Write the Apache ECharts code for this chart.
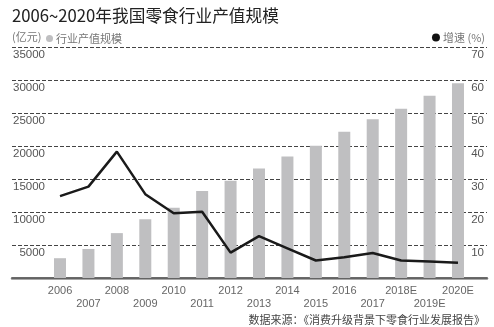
<!DOCTYPE html>
<html>
<head>
<meta charset="utf-8">
<script src="https://cdn.jsdelivr.net/npm/echarts@6/dist/echarts.min.js"></script>
<style>
  html, body { margin: 0; padding: 0; background: #fff; }
  #chart { width: 494px; height: 327px; }
</style>
</head>
<body>
<div id="chart"></div>
<script>
// Snack industry output value (亿元) and growth rate (%), 2006–2020E
const years = ['2006', '2007', '2008', '2009', '2010', '2011', '2012', '2013',
  '2014', '2015', '2016', '2017', '2018E', '2019E', '2020E'];
const outputValue = [3000, 4400, 6800, 8900, 10650, 13200, 14750, 16600,
  18400, 20050, 22150, 24050, 25650, 27600, 29500];
const growthRate = [24.8, 27.7, 38.3, 25.4, 19.6, 20.1, 7.7, 12.7,
  9.0, 5.3, 6.3, 7.6, 5.3, 5.0, 4.6];
const leftTicks = { min: 0, max: 35000, interval: 5000 };
const rightTicks = { min: 0, max: 70, interval: 10 };

const FONT = '"Liberation Sans", "Noto Sans CJK SC", sans-serif';
const CJK = '"Noto Sans CJK SC", "Liberation Sans", sans-serif';

const chart = echarts.init(document.getElementById('chart'), null, { renderer: 'canvas' });

const hiddenAxis = {
  axisLine: { show: false }, axisTick: { show: false },
  axisLabel: { show: false }, splitLine: { show: false }
};

chart.setOption({
  animation: false,
  backgroundColor: '#fff',
  textStyle: { fontFamily: FONT },
  title: [
    {
      text: '2006~2020年我国零食行业产值规模',
      left: 12, top: 7, padding: 0,
      textStyle: { fontFamily: CJK, fontSize: 16.7, fontWeight: 'normal', color: '#222' }
    },
    {
      text: '(亿元)',
      left: 12, top: 31, padding: 0,
      textStyle: { fontFamily: CJK, fontSize: 11, fontWeight: 'normal', color: '#777' }
    },
    {
      text: '数据来源：《消费升级背景下零食行业发展报告》',
      right: 9, top: 314, padding: 0,
      textStyle: { fontFamily: CJK, fontSize: 11, fontWeight: 'normal', color: '#444' }
    }
  ],
  legend: [
    {
      data: ['行业产值规模'],
      left: 41, top: 28,
      icon: 'circle', itemWidth: 7, itemHeight: 7, itemGap: 4,
      textStyle: { fontFamily: CJK, fontSize: 11, color: '#777', padding: [0, 0, 0, -2] }
    },
    {
      data: ['增速'],
      right: 4, top: 27,
      icon: 'circle', itemWidth: 8, itemHeight: 8,
      formatter: (name) => name + ' (%)',
      textStyle: { fontFamily: CJK, fontSize: 11, color: '#777', padding: [0, 0, 0, -2] }
    }
  ],
  grid: [
    // frame grid: gridlines and value labels, full width
    { left: 12, right: 7, top: 47, bottom: 49 },
    // category grid: bars and line
    { left: 45.8, right: 21.8, top: 47, bottom: 49 }
  ],
  xAxis: [
    {
      gridIndex: 0, type: 'value', position: 'top', min: 0, max: 1,
      axisLine: { show: true, lineStyle: { color: '#8c8c8c', width: 2.5 } },
      axisTick: { show: false }, axisLabel: { show: false }, splitLine: { show: false }
    },
    {
      gridIndex: 0, type: 'value', position: 'bottom', min: 0, max: 1,
      axisLine: { show: true, lineStyle: { color: '#555', width: 1.5 } },
      axisTick: { show: false }, axisLabel: { show: false }, splitLine: { show: false }
    },
    {
      gridIndex: 1, type: 'category', data: years, boundaryGap: true,
      axisLine: { show: false }, axisTick: { show: false },
      axisLabel: {
        interval: 0, margin: 6, fontSize: 11, color: '#666', lineHeight: 13.5,
        formatter: (v, i) => (i % 2 ? '\n' + v : v)
      }
    }
  ],
  yAxis: [
    {
      gridIndex: 0, type: 'value', position: 'left', ...leftTicks,
      axisLine: { show: false }, axisTick: { show: false },
      axisLabel: {
        inside: true, align: 'right', verticalAlign: 'top', margin: 33,
        padding: [2, 0, 0, 0], fontSize: 11.5, color: '#555', showMinLabel: false,
        formatter: (v) => String(v)
      },
      splitLine: { show: true, lineStyle: { color: '#444', type: [4, 2], width: 1 } }
    },
    {
      gridIndex: 0, type: 'value', position: 'right', ...rightTicks,
      axisLine: { show: false }, axisTick: { show: false },
      axisLabel: {
        inside: true, align: 'right', verticalAlign: 'top', margin: 3,
        padding: [2, 0, 0, 0], fontSize: 11.5, color: '#555', showMinLabel: false,
        formatter: (v) => String(v)
      },
      splitLine: { show: false }
    },
    { gridIndex: 1, type: 'value', ...leftTicks, ...hiddenAxis },
    { gridIndex: 1, type: 'value', ...rightTicks, ...hiddenAxis }
  ],
  series: [
    {
      name: '行业产值规模', type: 'bar',
      xAxisIndex: 2, yAxisIndex: 2,
      data: outputValue, barWidth: 12,
      itemStyle: { color: '#bfbfc1' }
    },
    {
      name: '增速', type: 'line',
      xAxisIndex: 2, yAxisIndex: 3,
      data: growthRate, showSymbol: false, symbol: 'circle',
      lineStyle: { color: '#1a1a1a', width: 2.5 },
      itemStyle: { color: '#111' }
    }
  ]
});
</script>
</body>
</html>
